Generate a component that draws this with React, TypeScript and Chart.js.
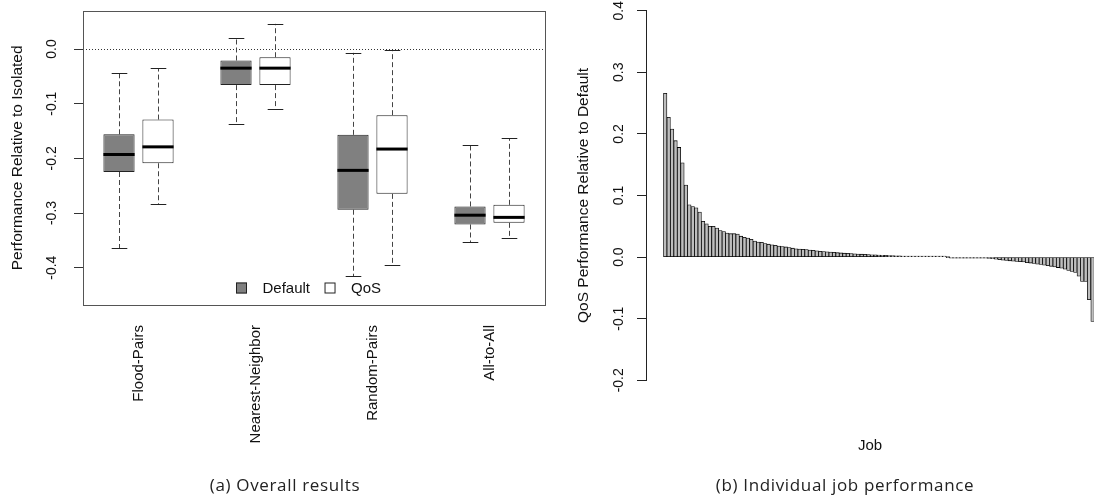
import React, { useEffect, useRef } from 'react';
import { Chart, registerables } from 'chart.js';

Chart.register(...registerables);

// ---------- Data: panel (a) ----------
const categories = ['Flood-Pairs', 'Nearest-Neighbor', 'Random-Pairs', 'All-to-All'];
const seriesNames = ['Default', 'QoS'];

const defaultWhiskerHigh = [-0.043, 0.020, -0.007, -0.176];
const defaultQ3 = [-0.156, -0.021, -0.157, -0.288];
const defaultMedian = [-0.193, -0.035, -0.222, -0.304];
const defaultQ1 = [-0.225, -0.066, -0.294, -0.321];
const defaultWhiskerLow = [-0.364, -0.138, -0.416, -0.353];

const qosWhiskerHigh = [-0.035, 0.046, -0.002, -0.163];
const qosQ3 = [-0.129, -0.015, -0.121, -0.285];
const qosMedian = [-0.179, -0.035, -0.183, -0.308];
const qosQ1 = [-0.209, -0.066, -0.265, -0.318];
const qosWhiskerLow = [-0.284, -0.110, -0.396, -0.346];

const overallTicks = [-0.4, -0.3, -0.2, -0.1, 0.0];

// ---------- Data: panel (b) ----------
const jobTicks = [-0.2, -0.1, 0.0, 0.1, 0.2, 0.3, 0.4];
const jobValues = [
  0.266, 0.227, 0.208, 0.189, 0.178, 0.153, 0.117, 0.085, 0.082, 0.080,
  0.073, 0.058, 0.054, 0.050, 0.050, 0.047, 0.043, 0.0415, 0.039, 0.038,
  0.038, 0.0375, 0.034, 0.032, 0.031, 0.029, 0.026, 0.0245, 0.024, 0.022,
  0.021, 0.020, 0.019, 0.018, 0.0172, 0.0165, 0.0155, 0.0145, 0.0135, 0.013,
  0.0125, 0.0122, 0.0115, 0.011, 0.0102, 0.0095, 0.009, 0.0085, 0.0082, 0.0078,
  0.0072, 0.0068, 0.0064, 0.006, 0.0056, 0.0053, 0.005, 0.0047, 0.0044, 0.0041,
  0.0038, 0.0035, 0.0032, 0.003, 0.0028, 0.0026, 0.0024, 0.0022, 0.002, 0.0018,
  0.0016, 0.0014, 0.0012, 0.001, 0.0008, 0.0006, 0.0005, 0.0004, 0.0003, 0.0002,
  0.0001, 0.0001, 0.0, -0.0001, -0.0002, -0.0002, -0.0003, -0.0003, -0.0004, -0.0005,
  -0.0008, -0.0011, -0.0014, -0.0016, -0.0021, -0.0027, -0.0032, -0.0043, -0.0049, -0.0054,
  -0.006, -0.0065, -0.007, -0.0076, -0.008, -0.009, -0.0097, -0.0103, -0.0114, -0.012,
  -0.013, -0.014, -0.015, -0.016, -0.017, -0.018, -0.0195, -0.0216, -0.0233, -0.025,
  -0.031, -0.0395, -0.0395, -0.069, -0.1045,
];

const FONT = '"Liberation Sans", Arial, Helvetica, sans-serif';
const TEXT = '#111';

const boxSeries = [
  { name: seriesNames[0], hi: defaultWhiskerHigh, q3: defaultQ3, med: defaultMedian, q1: defaultQ1, lo: defaultWhiskerLow, fill: '#808080' },
  { name: seriesNames[1], hi: qosWhiskerHigh, q3: qosQ3, med: qosMedian, q1: qosQ1, lo: qosWhiskerLow, fill: '#ffffff' },
];

const boxPos = (cat: number, s: number) => 3 * cat + 1 + s;

const boxExtras = {
  id: 'boxExtras',
  beforeDatasetsDraw(chart: any) {
    const { ctx, chartArea, scales } = chart;
    const x = scales.x;
    const y = scales.y;
    ctx.save();
    // dotted reference line at 0
    ctx.setLineDash([1, 2]);
    ctx.strokeStyle = '#333';
    ctx.lineWidth = 1;
    const y0 = Math.round(y.getPixelForValue(0)) + 0.5;
    ctx.beginPath();
    ctx.moveTo(chartArea.left, y0);
    ctx.lineTo(chartArea.right, y0);
    ctx.stroke();
    // whiskers
    const capHalf = x.getPixelForValue(1.2) - x.getPixelForValue(1);
    boxSeries.forEach((s, si) => {
      categories.forEach((_, ci) => {
        const px = Math.round(x.getPixelForValue(boxPos(ci, si))) + 0.5;
        ctx.setLineDash([5, 3]);
        ctx.strokeStyle = '#444';
        ctx.beginPath();
        ctx.moveTo(px, y.getPixelForValue(s.q3[ci]));
        ctx.lineTo(px, y.getPixelForValue(s.hi[ci]));
        ctx.moveTo(px, y.getPixelForValue(s.q1[ci]));
        ctx.lineTo(px, y.getPixelForValue(s.lo[ci]));
        ctx.stroke();
        ctx.setLineDash([]);
        ctx.strokeStyle = '#222';
        ctx.beginPath();
        const yh = Math.round(y.getPixelForValue(s.hi[ci])) + 0.5;
        const yl = Math.round(y.getPixelForValue(s.lo[ci])) + 0.5;
        ctx.moveTo(px - capHalf, yh);
        ctx.lineTo(px + capHalf, yh);
        ctx.moveTo(px - capHalf, yl);
        ctx.lineTo(px + capHalf, yl);
        ctx.stroke();
      });
    });
    ctx.restore();
  },
  afterDatasetsDraw(chart: any) {
    const { ctx, chartArea, scales } = chart;
    const x = scales.x;
    const y = scales.y;
    ctx.save();
    // medians
    const half = x.getPixelForValue(1.4) - x.getPixelForValue(1);
    ctx.strokeStyle = '#000';
    ctx.lineWidth = 3;
    boxSeries.forEach((s, si) => {
      categories.forEach((_, ci) => {
        const px = x.getPixelForValue(boxPos(ci, si));
        const py = y.getPixelForValue(s.med[ci]);
        ctx.beginPath();
        ctx.moveTo(px - half, py);
        ctx.lineTo(px + half, py);
        ctx.stroke();
      });
    });
    // frame
    ctx.lineWidth = 1;
    ctx.strokeStyle = '#555';
    ctx.strokeRect(
      Math.round(chartArea.left) + 0.5,
      Math.round(chartArea.top) + 0.5,
      Math.round(chartArea.right) - Math.round(chartArea.left),
      Math.round(chartArea.bottom) - Math.round(chartArea.top)
    );
    // legend (inside, bottom)
    const cx = (chartArea.left + chartArea.right) / 2;
    const ly = chartArea.bottom - 17;
    let lx = cx - 78;
    ctx.font = `15px ${FONT}`;
    ctx.textBaseline = 'middle';
    ctx.textAlign = 'left';
    boxSeries.forEach((s) => {
      ctx.fillStyle = s.fill;
      ctx.fillRect(lx, ly - 5.5, 11, 11);
      ctx.strokeStyle = '#222';
      ctx.strokeRect(lx + 0.5, ly - 5, 10, 10);
      lx += 11 + 15.5;
      ctx.fillStyle = TEXT;
      ctx.fillText(s.name, lx, ly + 0.5);
      lx += ctx.measureText(s.name).width + 14.5;
    });
    ctx.restore();
  },
};

export default function App() {
  const refA = useRef<HTMLCanvasElement | null>(null);
  const refB = useRef<HTMLCanvasElement | null>(null);

  useEffect(() => {
    Chart.defaults.font.family = FONT;
    Chart.defaults.color = TEXT;

    const chartA = new Chart(refA.current as HTMLCanvasElement, {
      type: 'bar',
      data: {
        datasets: boxSeries.map((s, si) => ({
          label: s.name,
          data: categories.map((_, ci) => ({ x: boxPos(ci, si), y: [s.q1[ci], s.q3[ci]] })),
          backgroundColor: s.fill,
          borderColor: '#222',
          borderWidth: 1,
          borderSkipped: false,
          grouped: false,
          barPercentage: 0.8,
          categoryPercentage: 1,
        })),
      } as any,
      options: {
        animation: false,
        responsive: false,
        events: [],
        layout: { autoPadding: false, padding: { left: 0, top: 10.7, right: 15, bottom: 0 } },
        plugins: { legend: { display: false }, tooltip: { enabled: false }, title: { display: false } },
        scales: {
          x: {
            type: 'linear',
            offset: false,
            min: 0.077,
            max: 11.923,
            grid: { display: false, drawTicks: false, offset: false },
            border: { display: false },
            afterBuildTicks: (s: any) => {
              s.ticks = categories.map((_, ci) => ({ value: 3 * ci + 1.5 }));
            },
            afterFit: (s: any) => {
              s.height = 197;
              s.paddingLeft = 0;
              s.paddingRight = 0;
            },
            ticks: {
              autoSkip: false,
              minRotation: 90,
              maxRotation: 90,
              padding: 20,
              font: { size: 15, family: FONT },
              color: TEXT,
              callback: (_v: any, i: number) => categories[i],
            },
          },
          y: {
            type: 'linear',
            min: -0.4683,
            max: 0.0701,
            afterBuildTicks: (s: any) => {
              s.ticks = overallTicks.map((v) => ({ value: v }));
            },
            afterFit: (s: any) => {
              s.width = 83;
              s.paddingTop = 0;
              s.paddingBottom = 0;
            },
            grid: { drawOnChartArea: false, drawTicks: true, tickLength: 9, tickColor: '#333' },
            border: { display: false },
            ticks: {
              autoSkip: false,
              minRotation: 90,
              maxRotation: 90,
              crossAlign: 'center',
              padding: 10,
              font: { size: 14, family: FONT },
              color: TEXT,
              callback: (v: any) => Number(v).toFixed(1),
            },
            title: {
              display: true,
              text: 'Performance Relative to Isolated',
              font: { size: 15.5, family: FONT },
              color: TEXT,
              padding: { top: 8.7, bottom: 0 },
            },
          },
        },
      } as any,
      plugins: [boxExtras],
    });

    const chartB = new Chart(refB.current as HTMLCanvasElement, {
      type: 'bar',
      data: {
        datasets: [
          {
            label: 'QoS vs Default',
            data: jobValues.map((v, i) => ({ x: 1.2 * (i + 1) - 0.5, y: v })),
            backgroundColor: '#bebebe',
            borderColor: '#000',
            borderWidth: 0.8,
            borderSkipped: false,
            barPercentage: 1,
            categoryPercentage: 1,
            minBarLength: 1,
          },
        ],
      } as any,
      options: {
        animation: false,
        responsive: false,
        events: [],
        layout: { autoPadding: false, padding: { left: 0, top: 10.7, right: 0, bottom: 0 } },
        plugins: { legend: { display: false }, tooltip: { enabled: false } },
        scales: {
          x: {
            type: 'linear',
            offset: false,
            min: -5.99,
            max: 150,
            grid: { display: false, drawTicks: false, offset: false },
            border: { display: false },
            ticks: { display: false },
            afterFit: (s: any) => {
              s.height = 121.7;
              s.paddingLeft = 0;
              s.paddingRight = 0;
            },
            title: {
              display: true,
              text: 'Job',
              font: { size: 15, family: FONT },
              color: TEXT,
              padding: { top: 0, bottom: 47 },
            },
          },
          y: {
            type: 'linear',
            min: -0.2,
            max: 0.4,
            afterBuildTicks: (s: any) => {
              s.ticks = jobTicks.map((v) => ({ value: v }));
            },
            afterFit: (s: any) => {
              s.width = 86;
              s.paddingTop = 0;
              s.paddingBottom = 0;
            },
            grid: { drawOnChartArea: false, drawTicks: true, tickLength: 9, tickColor: '#222' },
            border: { display: true, color: '#222', width: 1 },
            ticks: {
              autoSkip: false,
              minRotation: 90,
              maxRotation: 90,
              crossAlign: 'center',
              padding: 5.6,
              font: { size: 14, family: FONT },
              color: TEXT,
              callback: (v: any) => Number(v).toFixed(1),
            },
            title: {
              display: true,
              text: 'QoS Performance Relative to Default',
              font: { size: 15.5, family: FONT },
              color: TEXT,
              padding: { top: 14.7, bottom: 0 },
            },
          },
        },
      } as any,
    });

    return () => {
      chartA.destroy();
      chartB.destroy();
    };
  }, []);

  const captionStyle: React.CSSProperties = {
    position: 'absolute',
    top: 474,
    height: 22,
    lineHeight: '22px',
    textAlign: 'center',
    fontFamily: '"Open Sans", "Noto Sans", sans-serif',
    fontSize: 17,
    letterSpacing: '0.65px',
    color: '#222',
    whiteSpace: 'nowrap',
  };

  return (
    <div style={{ position: 'absolute', left: 0, top: 0, width: 1094, height: 502, overflow: 'hidden', background: '#fff' }}>
      <canvas ref={refA} width={560} height={502} style={{ position: 'absolute', left: 0, top: 0, width: 560, height: 502 }} />
      <canvas ref={refB} width={534} height={502} style={{ position: 'absolute', left: 560, top: 0, width: 534, height: 502 }} />
      <div style={{ ...captionStyle, left: 85, width: 400 }}>(a) Overall results</div>
      <div style={{ ...captionStyle, left: 645, width: 400 }}>(b) Individual job performance</div>
    </div>
  );
}
